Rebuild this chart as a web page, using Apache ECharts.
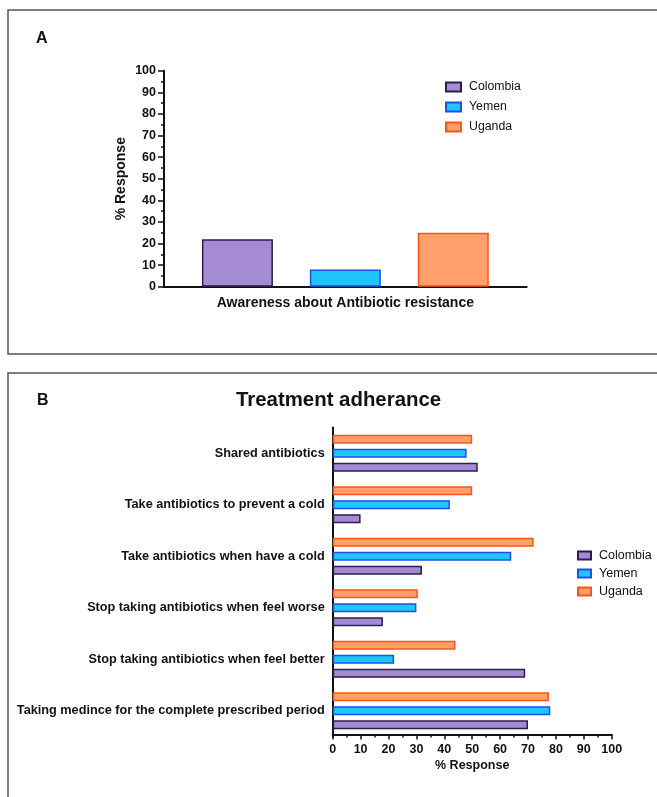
<!DOCTYPE html>
<html>
<head>
<meta charset="utf-8">
<script src="https://cdn.jsdelivr.net/npm/echarts@6/dist/echarts.min.js"></script>
<style>
html,body{margin:0;padding:0;background:#fff;}
#chart{width:657px;height:797px;}
</style>
</head>
<body>
<div id="chart"></div>
<script>
const countries = ['Colombia', 'Yemen', 'Uganda'];
const fillColors = ['#a58bd3', '#1ec6fb', '#ffa06b'];
const borderColors = ['#2d1d4f', '#1f4fe8', '#ff5419'];

// Panel A
const awarenessCategory = ['Awareness about Antibiotic resistance'];
const awarenessColombia = [22];
const awarenessYemen = [8];
const awarenessUganda = [25];

// Panel B (bottom to top)
const adherenceCategories = [
  'Taking medince for the complete prescribed period',
  'Stop taking antibiotics when feel better',
  'Stop taking antibiotics when feel worse',
  'Take antibiotics when have a cold',
  'Take antibiotics to prevent a cold',
  'Shared antibiotics'
];
const adherenceColombia = [70, 69, 18, 32, 10, 52];
const adherenceYemen = [78, 22, 30, 64, 42, 48];
const adherenceUganda = [77.5, 44, 30.5, 72, 50, 50];

const percentTicks = [0, 10, 20, 30, 40, 50, 60, 70, 80, 90, 100];

const FONT = '"Liberation Sans", Arial, sans-serif';
const INK = '#111';

const chart = echarts.init(document.getElementById('chart'));

function barSeries(name, i, data, axisIdx, width, gap) {
  return {
    type: 'bar', name: name, data: data,
    xAxisIndex: axisIdx, yAxisIndex: axisIdx,
    barWidth: width, barGap: gap,
    itemStyle: { color: fillColors[i], borderColor: borderColors[i], borderWidth: 1.5 },
    emphasis: { disabled: true },
    animation: false
  };
}

const option = {
  animation: false,
  textStyle: { fontFamily: FONT },
  title: {
    text: 'Treatment adherance',
    left: 236, top: 390, padding: 0,
    textStyle: { fontFamily: FONT, fontSize: 20.4, fontWeight: 'bold', color: INK }
  },
  graphic: [
    { type: 'rect', shape: { x: 8, y: 10, width: 700, height: 344 }, style: { fill: 'none', stroke: '#555', lineWidth: 1.5 }, silent: true },
    { type: 'rect', shape: { x: 8, y: 373, width: 700, height: 500 }, style: { fill: 'none', stroke: '#555', lineWidth: 1.5 }, silent: true },
    { type: 'text', x: 36, y: 39, style: { text: 'A', font: 'bold 16px ' + FONT, fill: INK, textVerticalAlign: 'middle' }, silent: true },
    { type: 'text', x: 37, y: 401, style: { text: 'B', font: 'bold 16px ' + FONT, fill: INK, textVerticalAlign: 'middle' }, silent: true }
  ],
  legend: [
    {
      data: countries, orient: 'vertical', left: 445, top: 81, padding: 0,
      itemWidth: 15, itemHeight: 9, itemGap: 8, icon: 'rect',
      textStyle: { fontFamily: FONT, fontSize: 12.3, color: INK, padding: [0, 0, 0, 3] },
      selectedMode: false
    },
    {
      data: countries, orient: 'vertical', left: 577, top: 549, padding: 0,
      itemWidth: 13, itemHeight: 8, itemGap: 5, icon: 'rect',
      textStyle: { fontFamily: FONT, fontSize: 12.5, color: INK, padding: [0, 0, 0, 3] },
      selectedMode: false
    }
  ],
  grid: [
    { left: 164, top: 70.7, width: 362.7, height: 216, containLabel: false },
    { left: 332.7, top: 427.5, width: 279, height: 309, containLabel: false }
  ],
  xAxis: [
    {
      gridIndex: 0, type: 'category', data: awarenessCategory,
      axisLine: { lineStyle: { color: INK, width: 2 } },
      axisTick: { alignWithLabel: true, length: 6, lineStyle: { color: INK, width: 2 } },
      axisLabel: { fontFamily: FONT, fontSize: 14, fontWeight: 'bold', color: INK, margin: 9 },
      splitLine: { show: false }
    },
    {
      gridIndex: 1, type: 'value', min: 0, max: 100, interval: 10, offset: -2,
      name: '% Response', nameLocation: 'middle', nameGap: 25, nameMoveOverlap: false,
      nameTextStyle: { fontFamily: FONT, fontSize: 12.5, fontWeight: 'bold', color: INK },
      axisLine: { show: true, lineStyle: { color: INK, width: 2 } },
      axisTick: { show: true, length: 5, lineStyle: { color: INK, width: 1.5 } },
      minorTick: { show: true, splitNumber: 2, length: 3, lineStyle: { color: INK, width: 1.5 } },
      axisLabel: { fontFamily: FONT, fontSize: 12.5, fontWeight: 'bold', color: INK, margin: 9,
        formatter: function (v) { return percentTicks.indexOf(v) >= 0 ? String(v) : ''; } },
      splitLine: { show: false }
    }
  ],
  yAxis: [
    {
      gridIndex: 0, type: 'value', min: 0, max: 100, interval: 10,
      name: '% Response', nameLocation: 'middle', nameGap: 36, nameRotate: 90, nameMoveOverlap: false,
      nameTextStyle: { fontFamily: FONT, fontSize: 14, fontWeight: 'bold', color: INK },
      axisLine: { show: true, lineStyle: { color: INK, width: 2 } },
      axisTick: { show: true, length: 6, lineStyle: { color: INK, width: 1.5 } },
      minorTick: { show: true, splitNumber: 2, length: 3, lineStyle: { color: INK, width: 1.5 } },
      axisLabel: { fontFamily: FONT, fontSize: 12.5, fontWeight: 'bold', color: INK, margin: 8 },
      splitLine: { show: false }
    },
    {
      gridIndex: 1, type: 'category', data: adherenceCategories,
      axisLine: { lineStyle: { color: INK, width: 2 } },
      axisTick: { alignWithLabel: true, length: 5, lineStyle: { color: INK, width: 1.5 } },
      axisLabel: { fontFamily: FONT, fontSize: 12.7, fontWeight: 'bold', color: INK, margin: 8 },
      splitLine: { show: false }
    }
  ],
  series: [
    barSeries('Colombia', 0, awarenessColombia, 0, 71, '52%'),
    barSeries('Yemen', 1, awarenessYemen, 0, 71, '52%'),
    barSeries('Uganda', 2, awarenessUganda, 0, 71, '52%'),
    // Panel B: listed top-to-bottom within each group (Uganda on top, Colombia at bottom)
    barSeries('Uganda', 2, adherenceUganda, 1, 9, '55%'),
    barSeries('Yemen', 1, adherenceYemen, 1, 9, '55%'),
    barSeries('Colombia', 0, adherenceColombia, 1, 9, '55%')
  ]
};
chart.setOption(option);
</script>
</body>
</html>
